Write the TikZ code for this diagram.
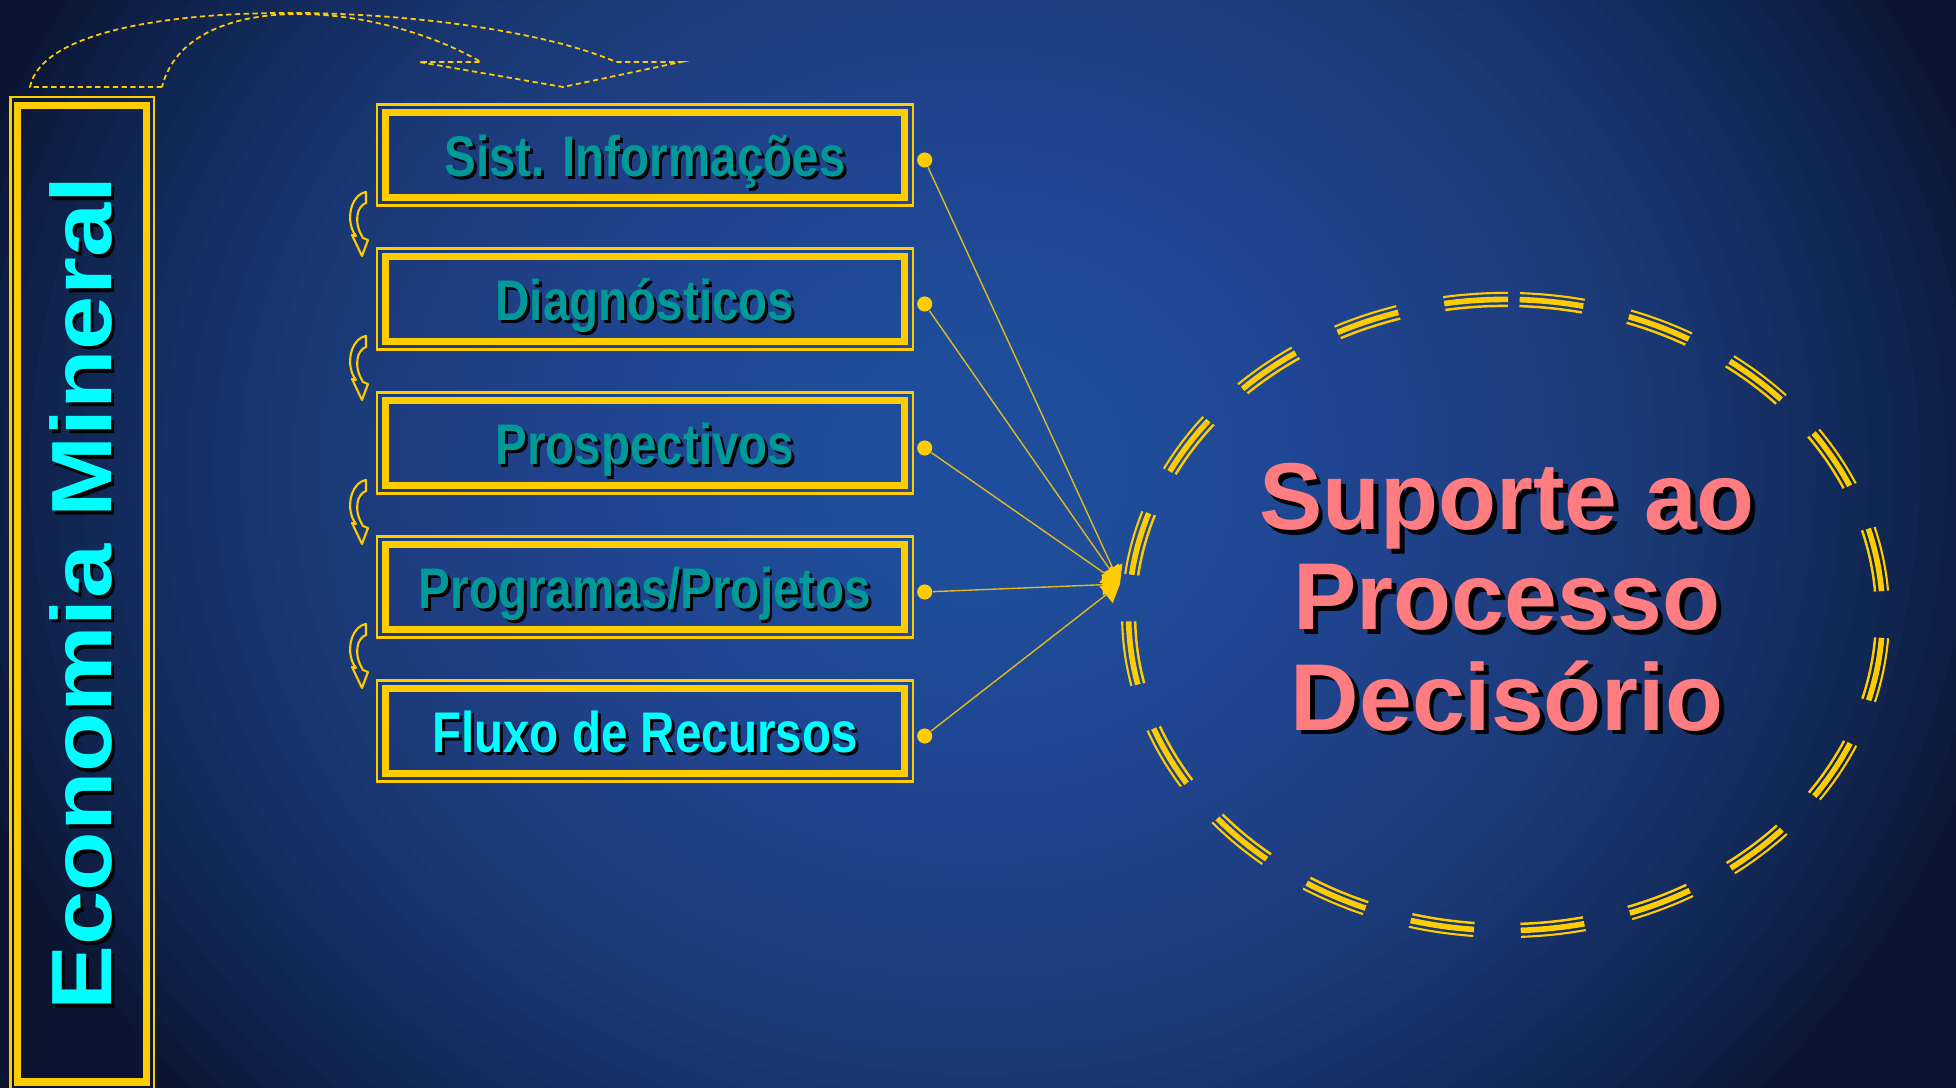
\documentclass[tikz,border=0pt]{standalone}
\usepackage{fontspec}
\setmainfont{Liberation Sans}
\newfontfamily\boxsans{Liberation Sans}[FakeStretch=0.83]
\newfontfamily\tallsans{Liberation Sans}[FakeStretch=1.14]
\usetikzlibrary{arrows.meta}
\definecolor{gold}{HTML}{FFCC00}
\definecolor{tealtxt}{HTML}{009999}
\definecolor{cyantxt}{HTML}{00FFFF}
\definecolor{salmon}{HTML}{FF7C80}
\definecolor{bgdark}{HTML}{0B1532}
\definecolor{bglight}{HTML}{3260B8}
\newcommand\shtext[4]{\rlap{\kern#1\raisebox{#2}{\color{black}#4}}\textcolor{#3}{#4}}
\tikzset{
  bendarrow/.pic={
    \draw[gold, line width=0.6pt, line join=round]
      (18,0) -- (18,11) .. controls (9,14) and (5,30) .. (15,46) -- (20,48) -- (14,64)
      -- (4,43) -- (8,44) .. controls (-3,30) and (2,3) .. (18,0) -- cycle;
  }
}
\begin{document}
\begin{tikzpicture}[x=0.01cm, y=-0.01cm,
  entry/.style={draw=gold, line width=2pt, outer sep=0pt, inner sep=0pt,
    minimum width=147.7pt, minimum height=24.2pt, text height=12.2pt, text depth=0pt,
    font=\boxsans\bfseries\fontsize{16.3}{18}\selectfont},
  boxframe/.style={draw=gold, line width=0.6pt},
  dot/.style={circle, fill=gold, inner sep=0pt, minimum size=4.3pt},
  feed/.style={draw=gold!75!gray, line width=0.4pt, -{Triangle[length=5pt, width=6pt, color=gold]}}]
  \useasboundingbox (0,0) rectangle (1956,1088);
  \begin{scope}
    \clip (0,0) rectangle (1956,1088);
    \fill[bgdark] (0,0) rectangle (1956,1088);
    \foreach \k in {0,...,39}
      \fill[bglight, fill opacity=0.05] (975,470) ellipse [x radius={1050*(1-\k/40)}, y radius={930*(1-\k/40)}];
  \end{scope}

  \draw[gold, line width=0.5pt, dash pattern=on 1.5pt off 1pt]
    (162,87) -- (30,87) .. controls (50,-15) and (474,0) .. (616,62) -- (681,62) -- (563,87)
    -- (419,62) -- (481,62) .. controls (374,0) and (187,-12) .. (162,87) -- cycle;

  \draw[boxframe] (10.5,97) rectangle (154,1095);
  \draw[gold, line width=2pt] (17.5,105.5) rectangle (146.5,1082);
  \node[rotate=90, anchor=base, font=\tallsans\bfseries\fontsize{24.3}{28}\selectfont] (econ) at (111,593.5)
    {\shtext{-1.1pt}{-1.1pt}{cyantxt}{Economia Mineral}};

  \node[entry] (sist) at (645,155) {\shtext{0.85pt}{-0.85pt}{tealtxt}{Sist. Informações}};
  \node[entry] (diag) at (645,299) {\shtext{0.85pt}{-0.85pt}{tealtxt}{Diagnósticos}};
  \node[entry] (prosp) at (645,443) {\shtext{0.85pt}{-0.85pt}{tealtxt}{Prospectivos}};
  \node[entry] (prog) at (645,587) {\shtext{0.85pt}{-0.85pt}{tealtxt}{Programas/Projetos}};
  \node[entry] (fluxo) at (645,731) {\shtext{0.85pt}{-0.85pt}{cyantxt}{Fluxo de Recursos}};
  \foreach \nm in {sist,diag,prosp,prog,fluxo}
    \draw[boxframe] ([shift={(-8,-8)}]\nm.north west) rectangle ([shift={(8,8)}]\nm.south east);

  \foreach \yy in {192,336,480,624}
    \pic at (348,\yy) {bendarrow};

  \coordinate (hub) at (1120,584);
  \foreach \nm in {sist,diag,prosp,prog,fluxo}{
    \node[dot] (\nm-dot) at ([shift={(20,5)}]\nm.east) {};
    \draw[feed] (\nm-dot) -- (hub);
  }

  \coordinate (ringc) at (1505.6,615);
  \foreach \d/\w in {6.5/0.6pt,0/1.6pt,-6.5/0.7pt}{
    \pgfmathsetmacro\don{18.2*(1+6.2832*(\d)/2180)}
    \pgfmathsetmacro\doff{13.3*(1+6.2832*(\d)/2180)}
    \draw[gold, line width=\w, dash pattern=on \don pt off \doff pt]
      (ringc) ++(-87.86:{377+\d} and {315.6+\d})
      arc[start angle=-87.86, end angle=272.14, x radius={377+\d}, y radius={315.6+\d}];
  }

  \node[align=center, anchor=base, font=\bfseries\fontsize{27}{28.45}\selectfont] (suporte) at (1507,730)
    {\shtext{1.4pt}{-1.4pt}{salmon}{Suporte ao}\\ \shtext{1.4pt}{-1.4pt}{salmon}{Processo}\\ \shtext{1.4pt}{-1.4pt}{salmon}{Decisório}};
\end{tikzpicture}
\end{document}
